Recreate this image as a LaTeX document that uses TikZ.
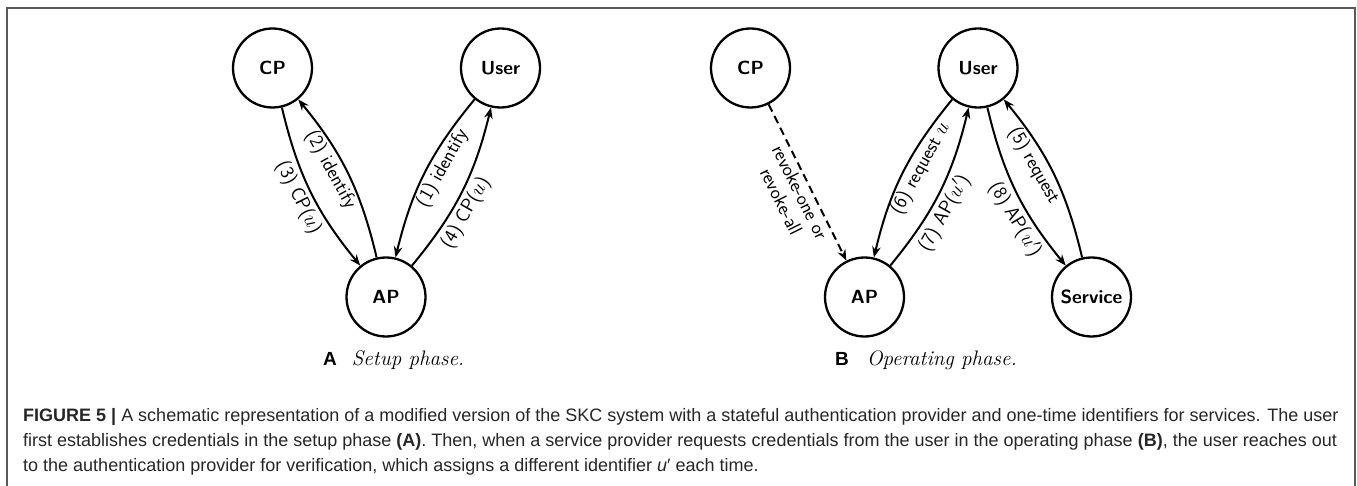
\documentclass[tikz,border=0pt]{standalone}
\usepackage{fontspec}
\newfontfamily\capfont{Liberation Sans}
\usetikzlibrary{arrows.meta}
\begin{document}
\begin{tikzpicture}[x=1pt,y=-1pt,
  state/.style={circle,draw,line width=2.3pt,minimum size=79pt,inner sep=0pt,
    font=\fontsize{19}{21}\selectfont\sffamily\bfseries},
  edge/.style={line width=2pt,-{Stealth[length=11pt,width=8.5pt]},bend right=13},
  dedge/.style={line width=2pt,-{Stealth[length=11pt,width=8.5pt]},dash pattern=on 8pt off 5pt},
  lab/.style={auto=right,sloped,font=\fontsize{19.5}{21}\selectfont\sffamily,inner sep=3pt},
  capline/.style={anchor=base west,inner sep=0pt,text=black!85,
    font=\capfont\fontsize{18}{25}\selectfont},
]
\useasboundingbox (0,0) rectangle (1357,486);
\draw[line width=1.6pt,color=black!65] (7,486) -- (7,8) -- (1355,8) -- (1355,486);

\node[state] (cpA) at (272.5,68) {CP};
\node[state] (userA) at (500.5,68) {User};
\node[state] (apA) at (386,297) {AP};

\node[state] (cpB) at (750.5,68) {CP};
\node[state] (userB) at (978,68) {User};
\node[state] (apB) at (864.5,297) {AP};
\node[state] (svc) at (1091.5,297) {Service};

\draw[edge] (cpA) to node[lab,pos=0.5] {(3) CP($u$)} (apA);
\draw[edge] (apA) to node[lab,pos=0.57] {(2) identify} (cpA);
\draw[edge] (userA) to node[lab,pos=0.42] {(1) identify} (apA);
\draw[edge] (apA) to node[lab,pos=0.4] {(4) CP($u$)} (userA);

\draw[dedge] (cpB) -- node[lab,pos=0.53,align=center] {revoke-one or\\revoke-all} (apB);
\draw[edge] (userB) to node[lab,pos=0.42] {(6) request $u$} (apB);
\draw[edge] (apB) to node[lab,pos=0.4] {(7) AP($u'$)} (userB);
\draw[edge] (userB) to node[lab,pos=0.64] {(8) AP($u'$)} (svc);
\draw[edge] (svc) to node[lab,pos=0.6] {(5) request} (userB);

\node[anchor=base west,inner sep=0pt] (capA) at (323,365)
  {{\capfont\fontsize{19}{20}\selectfont\bfseries A}\hspace{15pt}{\fontsize{21}{22}\selectfont\itshape Setup phase.}};
\node[anchor=base west,inner sep=0pt] (capB) at (835,365)
  {{\capfont\fontsize{19}{20}\selectfont\bfseries B}\hspace{18pt}{\fontsize{21}{22}\selectfont\itshape Operating phase.}};

\node[capline] (cap1) at (23,421) {\textbf{FIGURE 5 |} A schematic representation of a modified version of the SKC system with a stateful authentication provider and one-time identifiers for services. The user};
\node[capline] (cap2) at (23,446) {first establishes credentials in the setup phase \textbf{(A)}. Then, when a service provider requests credentials from the user in the operating phase \textbf{(B)}, the user reaches out};
\node[capline] (cap3) at (23,471) {to the authentication provider for verification, which assigns a different identifier \textit{u}′ each time.};
\end{tikzpicture}
\end{document}
